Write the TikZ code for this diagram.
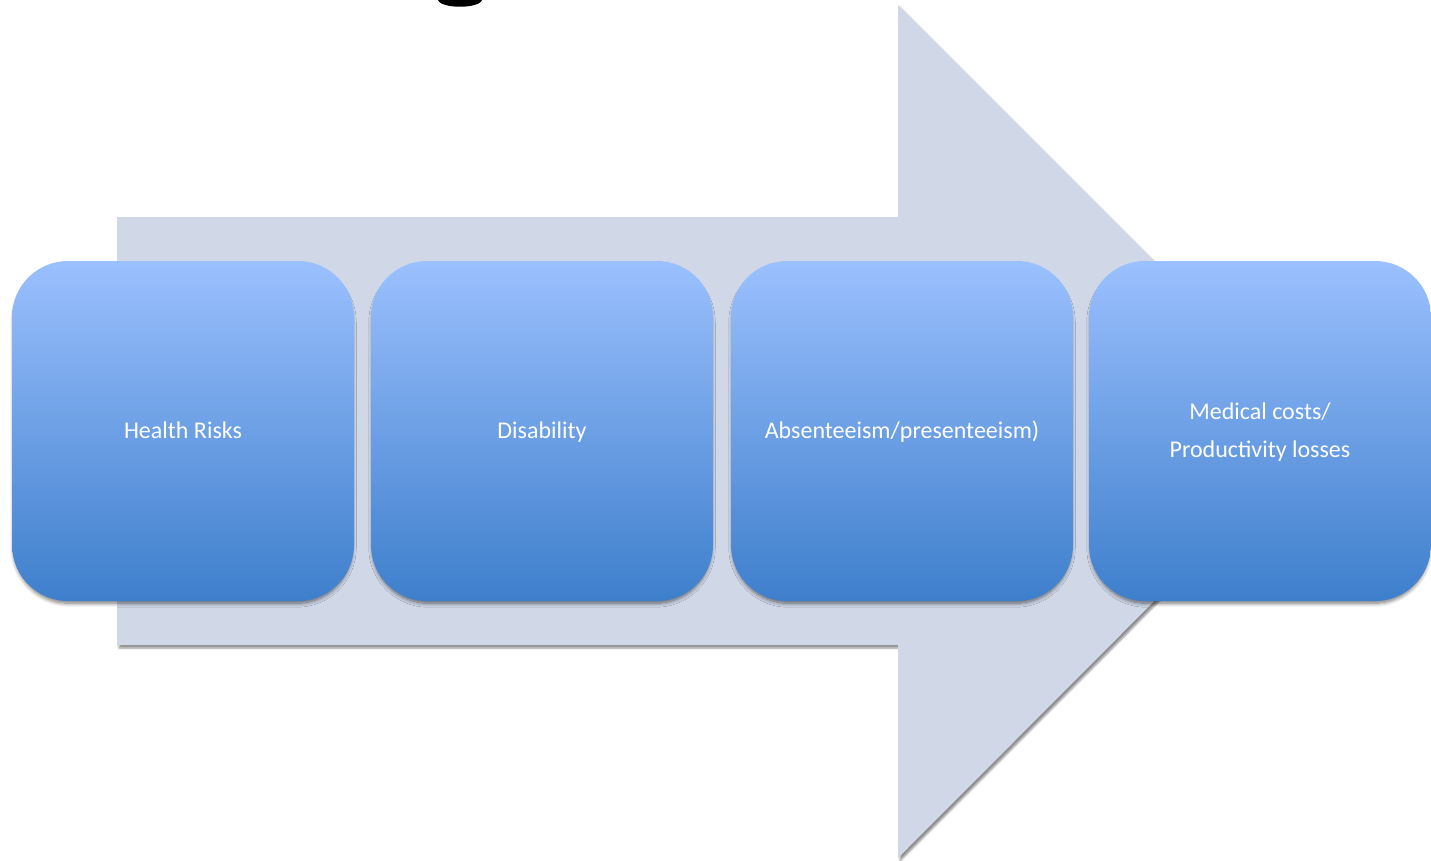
\documentclass[tikz,border=0pt]{standalone}
\usepackage{fontspec}
\setmainfont{Carlito}
\usetikzlibrary{shadows.blur}
\definecolor{arrowfill}{RGB}{208,216,232}
\definecolor{boxtop}{RGB}{155,192,254}
\definecolor{boxmid}{RGB}{122,166,234}
\definecolor{boxbot}{RGB}{62,127,204}
\begin{document}
\begin{tikzpicture}[x=1pt,y=-1pt,
  stagebox/.style={rounded corners=56pt, minimum width=342pt, minimum height=340pt,
    inner sep=0pt, top color=boxtop, middle color=boxmid, bottom color=boxbot,
    text=white, align=center, font=\fontsize{24}{38}\selectfont,
    blur shadow={shadow xshift=0pt, shadow yshift=-4pt, shadow scale=0.99,
      shadow blur radius=4pt, shadow blur steps=8, shadow opacity=55}},
  flowarrow/.style={fill=arrowfill,
    blur shadow={shadow xshift=2pt, shadow yshift=-3pt, shadow blur radius=2pt, shadow opacity=45}}]
\useasboundingbox (0,0) rectangle (1431,861);
% descender of the title line, cut off by the top edge
\fill[black] (438,0) .. controls (441,9) and (479,9) .. (482,0) -- cycle;
% large background arrow
\path[flowarrow] (117,217) -- (898,217) -- (898,5) -- (1324,431) -- (898,858)
  -- (898,645) -- (117,645) -- cycle;
% stages
\node[stagebox] (risks) at (183,431) {\strut Health Risks};
\node[stagebox] (disab) at (542,431) {\strut Disability};
\node[stagebox] (absent) at (902,431) {\strut Absenteeism/presenteeism)};
\node[stagebox] (costs) at (1260,431) {\strut Medical costs/\\\strut Productivity losses};
\end{tikzpicture}
\end{document}
